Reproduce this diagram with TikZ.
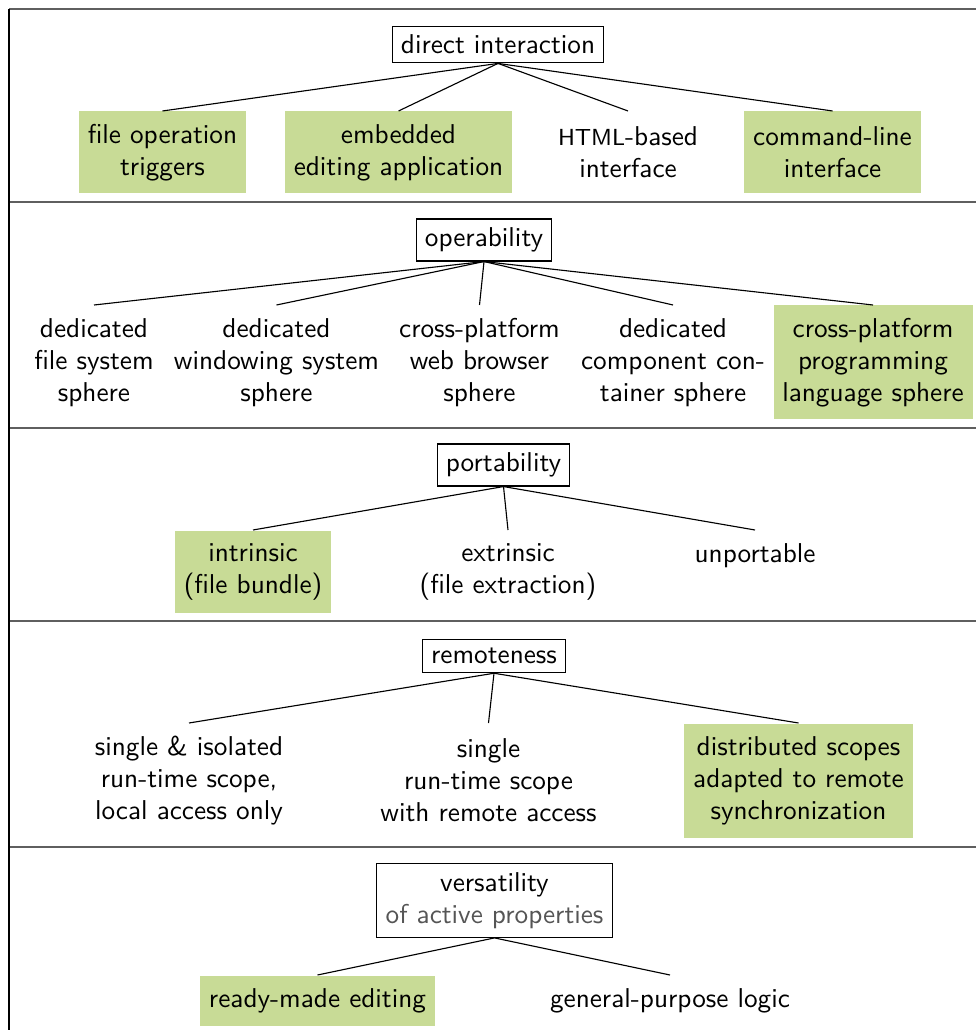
\documentclass[tikz,border=0pt]{standalone}
\begin{document}
\definecolor{leafgreen}{RGB}{200,219,150}
\definecolor{rulegray}{RGB}{95,95,95}
\definecolor{subgray}{RGB}{85,85,85}
\begin{tikzpicture}[x=0.4pt,y=-0.4pt,
  font=\sffamily\fontsize{10.9}{12.8}\selectfont,
  parent/.style={draw=black, line width=0.45pt, align=center, inner sep=3.5pt},
  leaf/.style={anchor=north, align=center, inner xsep=3.5pt, inner ysep=0pt},
  oneline/.style={minimum height=20pt},
  twoline/.style={minimum height=32.8pt},
  threeline/.style={minimum height=45.6pt},
  hl/.style={fill=leafgreen},
  link/.style={line width=0.45pt},
  band/.style={draw=rulegray, line width=0.8pt}]
\useasboundingbox (0,0) rectangle (976,1030);

% frame: horizontal bands and left edge
\draw[band] (9,9) -- (976,9);
\draw[band] (9,202) -- (976,202);
\draw[band] (9,428) -- (976,428);
\draw[band] (9,621) -- (976,621);
\draw[band] (9,847) -- (976,847);
\draw[line width=0.6pt] (9,9) -- (9,1030);

% direct interaction
\node[parent] (di) at (498,44.5) {direct interaction};
\node[leaf,twoline,hl] (fot) at (162.5,111) {file operation\\triggers};
\node[leaf,twoline,hl] (eea) at (398.5,111) {embedded\\editing application};
\node[leaf,twoline] (html) at (628,111) {{\fontsize{9.3}{12.8}\selectfont HTML}-based\\interface};
\node[leaf,twoline,hl] (cli) at (832.5,111) {command-line\\interface};
\foreach \c in {fot,eea,html,cli} \draw[link] (di.south) -- (\c.north);

% operability
\node[parent] (op) at (484,240) {operability};
\node[leaf,threeline] (dfs) at (94,305) {dedicated\\file system\\sphere};
\node[leaf,threeline] (dws) at (276.5,305) {dedicated\\windowing system\\sphere};
\node[leaf,threeline] (cwb) at (479.5,305) {cross-platform\\web browser\\sphere};
\node[leaf,threeline] (dcc) at (673,305) {dedicated\\component con-\\tainer sphere};
\node[leaf,threeline,hl] (cpl) at (873,305) {cross-platform\\programming\\language sphere};
\foreach \c in {dfs,dws,cwb,dcc,cpl} \draw[link] (op.south) -- (\c.north);

% portability
\node[parent] (po) at (503.5,465) {portability};
\node[leaf,twoline,hl] (intr) at (253,530) {intrinsic\\(file bundle)};
\node[leaf,twoline] (extr) at (508,530) {extrinsic\\(file extraction)};
\node[leaf,oneline] (unp) at (755,530) {unportable};
\foreach \c in {intr,extr,unp} \draw[link] (po.south) -- (\c.north);

% remoteness
\node[parent] (re) at (494,656) {remoteness};
\node[leaf,threeline] (sil) at (189,723) {single \& isolated\\run-time scope,\\local access only};
\node[leaf,threeline] (srr) at (488.5,723) {single\\run-time scope\\with remote access};
\node[leaf,threeline,hl] (dsr) at (798.5,723) {distributed scopes\\adapted to remote\\synchronization};
\foreach \c in {sil,srr,dsr} \draw[link] (re.south) -- (\c.north);

% versatility of active properties
\node[parent] (ve) at (494.5,900.5) {versatility\\{\color{subgray}of active properties}};
\node[leaf,oneline,hl] (rme) at (317.5,975) {ready-made editing};
\node[leaf,oneline] (gpl) at (670,975) {general-purpose logic};
\foreach \c in {rme,gpl} \draw[link] (ve.south) -- (\c.north);
\end{tikzpicture}
\end{document}
